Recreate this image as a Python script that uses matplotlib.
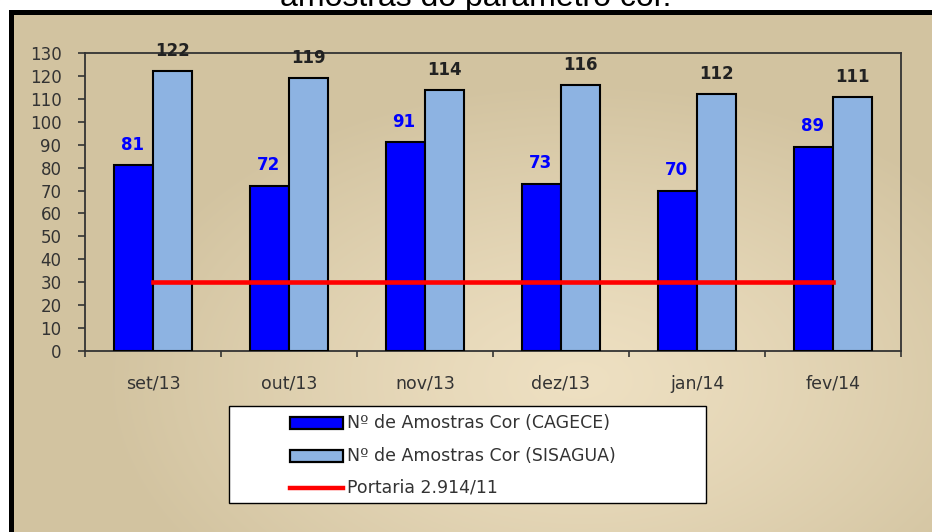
import numpy as np
import matplotlib
matplotlib.use("Agg")
import matplotlib.pyplot as plt
from matplotlib.patches import Rectangle

categories = ["set/13", "out/13", "nov/13", "dez/13", "jan/14", "fev/14"]
cagece = [81, 72, 91, 73, 70, 89]
sisagua = [122, 119, 114, 116, 112, 111]
portaria = [30, 30, 30, 30, 30, 30]
yticks = list(range(0, 131, 10))
series_names = ["Nº de Amostras Cor (CAGECE)", "Nº de Amostras Cor (SISAGUA)", "Portaria 2.914/11"]
title = "amostras do parâmetro cor."

BLUE = '#0000FF'
LBLUE = '#8DB3E2'
RED = '#FF0000'
TXT = '#333333'

W, H = 932, 532
plt.rcParams['font.family'] = ['DejaVu Sans']
fig = plt.figure(figsize=(W / 100, H / 100), dpi=100)

# background gradient (pixel coordinates)
bg = fig.add_axes([0, 0, 1, 1], zorder=-10)
yy, xx = np.mgrid[0:H, 0:W]
cx, cy = 580, 380
d = np.sqrt(((xx - cx) / 480.0) ** 2 + ((yy - cy) / 300.0) ** 2)
d = np.clip(d, 0, 1) ** 1.2
c_in = np.array([0xEE, 0xE0, 0xC2]) / 255
c_out = np.array([0xD2, 0xC3, 0xA0]) / 255
img = c_in[None, None, :] * (1 - d[..., None]) + c_out[None, None, :] * d[..., None]
bg.imshow(img, extent=[0, W, H, 0], aspect='auto')
bg.set_xlim(0, W)
bg.set_ylim(H, 0)
bg.axis('off')
bg.add_patch(Rectangle((0, 0), W, 10, color='white', zorder=2))
bg.add_patch(Rectangle((0, 0), 8, H, color='white', zorder=2))
bg.text(476, 6, title, ha='center', va='baseline', fontsize=23,
        family='Liberation Sans', color='black', zorder=2.5)
bg.plot([10.5, 10.5, W + 5], [H + 5, 12, 12], color='black', lw=3.6, zorder=3,
        solid_capstyle='projecting', solid_joinstyle='miter')

# legend drawn in pixel coordinates
bg.add_patch(Rectangle((229, 406), 706 - 229, 503 - 406, facecolor='white',
                       edgecolor='black', lw=1.0, zorder=4))
rows = [423, 456, 488]
bg.add_patch(Rectangle((290, rows[0] - 6), 53, 12, facecolor=BLUE, edgecolor='black',
                       lw=1.6, zorder=5))
bg.add_patch(Rectangle((290, rows[1] - 6), 53, 12, facecolor=LBLUE, edgecolor='black',
                       lw=1.6, zorder=5))
bg.plot([290, 343], [rows[2], rows[2]], color=RED, lw=3.2, zorder=5)
for r, name in zip(rows, series_names):
    bg.text(347, r, name, ha='left', va='center', fontsize=12.5, color=TXT, zorder=6)

ax = fig.add_axes([85 / W, 1 - 351 / H, (901 - 85) / W, (351 - 53) / H])
ax.patch.set_alpha(0)
x = np.arange(len(categories))
bw = 0.287
ax.bar(x - bw / 2, cagece, width=bw, color=BLUE, edgecolor='black', linewidth=1.5, zorder=3)
ax.bar(x + bw / 2, sisagua, width=bw, color=LBLUE, edgecolor='black', linewidth=1.5, zorder=3)
ax.plot(x, portaria, color=RED, lw=3.3, zorder=4)

for xi, v in zip(x, cagece):
    ax.text(xi - bw / 2 - 0.01, v + 9, str(v), ha='center', va='center', color=BLUE,
            fontsize=12, fontweight='bold')
for xi, v in zip(x, sisagua):
    ax.text(xi + bw / 2, v + 8.7, str(v), ha='center', va='center', color='#222222',
            fontsize=12, fontweight='bold')

ax.set_xlim(-0.5, len(categories) - 0.5)
ax.set_ylim(0, 130)
ax.set_yticks(yticks)
ax.set_xticks(x)
ax.set_xticklabels(categories)
ax.set_xticks(np.arange(-0.5, len(categories), 1.0), minor=True)
ax.tick_params(axis='x', which='major', length=0, pad=17, labelsize=12.5, labelcolor=TXT)
ax.tick_params(axis='x', which='minor', length=4, width=1.2, direction='out', color=TXT)
ax.tick_params(axis='y', length=5, width=1.2, direction='out', labelsize=12, labelcolor=TXT,
               color=TXT, pad=12)
for s in ax.spines.values():
    s.set_color(TXT)
    s.set_linewidth(1.3)

fig.savefig("out.png", dpi=100)
